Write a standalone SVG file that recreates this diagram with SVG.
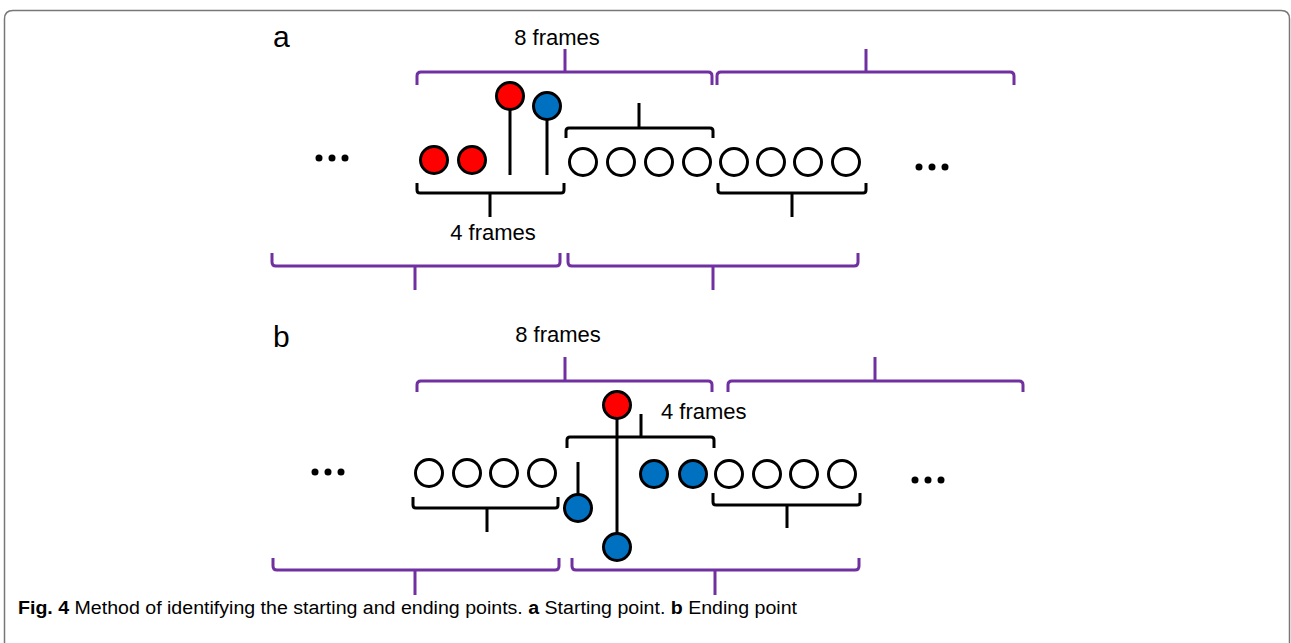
<svg xmlns="http://www.w3.org/2000/svg" width="1291" height="643" viewBox="0 0 1291 643">
<style>
.pb{fill:none;stroke:#7030A0;stroke-width:3;stroke-linecap:butt}
.bb{fill:none;stroke:#000;stroke-width:3}
.ln{stroke:#000;stroke-width:3}
.em{fill:#fff;stroke:#000;stroke-width:3}
.rd{fill:#FF0000;stroke:#000;stroke-width:3}
.bl{fill:#0070C0;stroke:#000;stroke-width:3}
.dot{fill:#000}
.lbl{font-family:"Liberation Sans",Arial,sans-serif;font-size:22px;fill:#000}
.pl{font-family:"Liberation Sans",Arial,sans-serif;font-size:30px;fill:#000}
.cap{font-family:"Liberation Sans",Arial,sans-serif;font-size:18px;fill:#000}
</style>
<rect x="0" y="0" width="1291" height="643" fill="#fff"/>
<path d="M4.5,660 V19 Q4.5,10.5 13,10.5 H1281 Q1289.5,10.5 1289.5,19 V660" fill="none" stroke="#777" stroke-width="1.5"/>

<g id="panel-a-label"><text class="pl" x="273" y="47">a</text></g>
<g id="panel-b-label"><text class="pl" x="273" y="347">b</text></g>

<g id="connectors">
  <path class="pb" d="M417,85 V76 Q417,72 421,72 H708 Q712,72 712,76 V85 M565,72 V49"/>
  <path class="pb" d="M717,85 V76 Q717,72 721,72 H1010 Q1014,72 1014,76 V85 M866,72 V49"/>
  <path class="pb" d="M272,253 V262 Q272,266 276,266 H556 Q560,266 560,262 V253 M415,266 V290"/>
  <path class="pb" d="M568,253 V262 Q568,266 572,266 H854 Q858,266 858,262 V253 M713,266 V290"/>
  <path class="bb" d="M566,138 V131 Q566,128 569,128 H710 Q713,128 713,131 V138 M639,128 V103"/>
  <path class="bb" d="M417,183 V190 Q417,193 420,193 H561 Q564,193 564,190 V183 M490,193 V217"/>
  <path class="bb" d="M718,183 V190 Q718,193 721,193 H863 Q866,193 866,190 V183 M792,193 V217"/>
  <line class="ln" x1="510" y1="110" x2="510" y2="175"/>
  <line class="ln" x1="547" y1="120" x2="547" y2="175"/>
  <path class="pb" d="M417,392 V385 Q417,381 421,381 H708 Q712,381 712,385 V392 M565,381 V357"/>
  <path class="pb" d="M728,392 V385 Q728,381 732,381 H1019 Q1023,381 1023,385 V392 M875,381 V357"/>
  <path class="pb" d="M273,558 V566 Q273,570 277,570 H555 Q559,570 559,566 V558 M415,570 V595"/>
  <path class="pb" d="M572,558 V566 Q572,570 576,570 H855 Q859,570 859,566 V558 M715,570 V595"/>
  <path class="bb" d="M567,448 V440 Q567,437 570,437 H711 Q714,437 714,440 V448 M641,437 V414"/>
  <path class="bb" d="M413,497 V505 Q413,508 416,508 H555 Q558,508 558,505 V497 M487,508 V532"/>
  <path class="bb" d="M713,493 V502 Q713,505 716,505 H857 Q860,505 860,502 V493 M787,505 V528"/>
  <line class="ln" x1="578" y1="462" x2="578" y2="495"/>
  <line class="ln" x1="617" y1="405" x2="617" y2="547"/>
</g>

<g id="panel-a-frames">
  <circle class="dot" cx="319" cy="158" r="3.5"/><circle class="dot" cx="332" cy="158" r="3.5"/><circle class="dot" cx="345" cy="158" r="3.5"/>
  <circle class="rd" cx="434" cy="160" r="13.5"/>
  <circle class="rd" cx="472" cy="160" r="13.5"/>
  <circle class="rd" cx="510" cy="96" r="13.5"/>
  <circle class="bl" cx="547" cy="106" r="13.5"/>
  <circle class="em" cx="583" cy="162" r="13.5"/>
  <circle class="em" cx="621" cy="162" r="13.5"/>
  <circle class="em" cx="659" cy="162" r="13.5"/>
  <circle class="em" cx="697" cy="162" r="13.5"/>
  <circle class="em" cx="734" cy="162" r="13.5"/>
  <circle class="em" cx="771" cy="162" r="13.5"/>
  <circle class="em" cx="808" cy="162" r="13.5"/>
  <circle class="em" cx="846" cy="162" r="13.5"/>
  <circle class="dot" cx="919" cy="167" r="3.5"/><circle class="dot" cx="932" cy="167" r="3.5"/><circle class="dot" cx="945" cy="167" r="3.5"/>
  <text class="lbl" x="557" y="45" text-anchor="middle">8 frames</text>
  <text class="lbl" x="493" y="240" text-anchor="middle">4 frames</text>
</g>

<g id="panel-b-frames">
  <circle class="dot" cx="315" cy="472" r="3.5"/><circle class="dot" cx="328" cy="472" r="3.5"/><circle class="dot" cx="341" cy="472" r="3.5"/>
  <circle class="em" cx="429" cy="473" r="13.5"/>
  <circle class="em" cx="467" cy="473" r="13.5"/>
  <circle class="em" cx="504" cy="473" r="13.5"/>
  <circle class="em" cx="542" cy="473" r="13.5"/>
  <circle class="bl" cx="578" cy="508" r="13.5"/>
  <circle class="rd" cx="617" cy="405" r="13.5"/>
  <circle class="bl" cx="617" cy="547" r="13.5"/>
  <circle class="bl" cx="654" cy="474" r="13.5"/>
  <circle class="bl" cx="693" cy="474" r="13.5"/>
  <circle class="em" cx="729" cy="474" r="13.5"/>
  <circle class="em" cx="767" cy="474" r="13.5"/>
  <circle class="em" cx="804" cy="474" r="13.5"/>
  <circle class="em" cx="842" cy="474" r="13.5"/>
  <circle class="dot" cx="915" cy="480" r="3.5"/><circle class="dot" cx="928" cy="480" r="3.5"/><circle class="dot" cx="941" cy="480" r="3.5"/>
  <text class="lbl" x="558" y="342" text-anchor="middle">8 frames</text>
  <text class="lbl" x="661" y="419">4 frames</text>
</g>

<g id="caption">
  <text class="cap" x="18" y="614" textLength="779" lengthAdjust="spacingAndGlyphs"><tspan font-weight="bold">Fig. 4</tspan> Method of identifying the starting and ending points. <tspan font-weight="bold">a</tspan> Starting point. <tspan font-weight="bold">b</tspan> Ending point</text>
</g>
</svg>
